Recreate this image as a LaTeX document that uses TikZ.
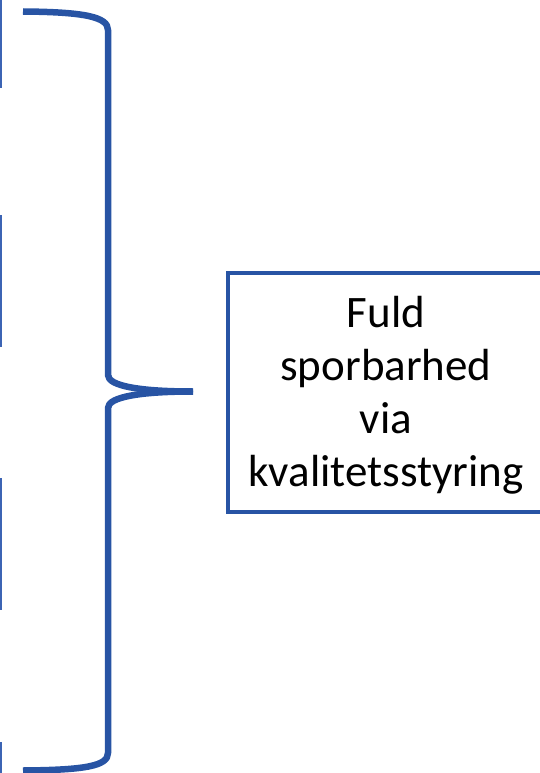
\documentclass[tikz,border=0pt]{standalone}
\usepackage{fontspec}
\setmainfont{Carlito}
\definecolor{bracecol}{RGB}{40,84,164}
\definecolor{edgecol}{RGB}{60,100,180}
\begin{document}
\begin{tikzpicture}[x=1pt,y=-1pt,
  bracestyle/.style={draw=bracecol,line width=6.5pt,line cap=butt,line join=round},
  boxstyle/.style={draw=bracecol,line width=4.5pt},
  edgestyle/.style={draw=edgecol,line width=1.6pt},
  labelstyle/.style={align=center,font=\fontsize{45}{53}\selectfont,text=black,inner sep=0pt}]
\useasboundingbox (0,0) rectangle (540,773);
\begin{scope}
\clip (0,0) rectangle (540,773);
% partial box edges at left margin
\draw[edgestyle] (0.8,0) -- (0.8,88);
\draw[edgestyle] (0.8,215) -- (0.8,347);
\draw[edgestyle] (0.8,478) -- (0.8,610);
\draw[edgestyle] (0.8,742) -- (0.8,773);
% box
\draw[boxstyle] (228,273) rectangle (545,512);
\coordinate (tip) at (193,391.5);
\draw[bracestyle] (23,11.5) .. controls (85,12) and (108,17) .. (108,30) -- (108,375)
  .. controls (108,386) and (140,391.5) .. (tip);
\draw[bracestyle] (tip) .. controls (140,391.5) and (108,397) .. (108,408) -- (108,753)
  .. controls (108,766) and (85,770) .. (23,770.5);
\end{scope}
\node[labelstyle] (lbl) at (386,395) {Fuld\\sporbarhed\\via\\kvalitetsstyring};
\end{tikzpicture}
\end{document}
